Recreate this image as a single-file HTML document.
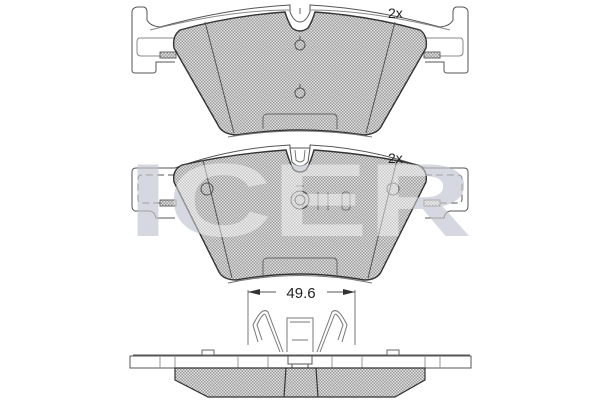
<!DOCTYPE html>
<html><head><meta charset="utf-8"><style>html,body{margin:0;padding:0;background:#fff}svg{display:block}</style></head>
<body>
<svg width="600" height="400" viewBox="0 0 600 400" xmlns="http://www.w3.org/2000/svg">
<defs>
<pattern id="h" width="3" height="3" patternUnits="userSpaceOnUse">
<rect width="3" height="3" fill="#e2e2e2"/>
<rect width="1.5" height="1.5" fill="#9a9a9a"/>
<rect x="1.5" y="1.5" width="1.5" height="1.5" fill="#9a9a9a"/>
</pattern>
</defs>

<!-- watermark -->
<text x="128" y="236" font-family="Liberation Sans, sans-serif" font-weight="bold" font-size="104" fill="#b4b9c9" textLength="344" lengthAdjust="spacingAndGlyphs">ICER</text>

<g fill="none" stroke="#555" stroke-width="1">
<path d="M132,12 Q132,8 137,7 L144,7 Q147,8 147,12 L147,20 Q150,26 160,27 Q230,8 290,5 L290,12 Q294,22 300,22 Q306,22 310,12 L310,5 Q370,8 440,27 Q450,26 453,20 L453,12 Q453,8 456,7 L463,7 Q468,8 468,12 L468,70 Q468,73 465,73 L447,73 Q444,73 444,70 L444,62 L425,62"/>
<path d="M132,12 L132,70 Q132,73 135,73 L153,73 Q156,73 156,70 L156,62 L175,62"/>
<path d="M150,30 Q230,10 290,10 M310,10 Q370,10 450,30" stroke="#888"/>
<path d="M175,38 L140,38 Q137,38 137,42 L137,52 Q137,56 141,56 L175,56" stroke="#888"/>
<path d="M425,38 L460,38 Q463,38 463,42 L463,52 Q463,56 459,56 L425,56" stroke="#888"/>
<rect x="160" y="52" width="16" height="6" fill="url(#h)" stroke="#666"/>
<rect x="424" y="52" width="16" height="6" fill="url(#h)" stroke="#666"/>

<path d="M180,30 Q230,16 285,12 Q288,22 292,28 Q300,34 308,28 Q312,22 315,12 Q370,16 420,30 Q428,36 426,48 L382,125 Q378,134 364,135 Q330,130 300,130 Q270,130 236,135 Q222,134 218,125 L174,48 Q172,36 180,30 Z" fill="url(#h)" stroke="#333" stroke-width="1.4"/>
<path d="M205,22 L234,133 M395,22 L366,133" stroke="#555"/>
<path d="M263,129 L263,118 Q263,114 268,114 L332,114 Q337,114 337,118 L337,129" stroke="#666"/>
<path d="M300,14 L300,8" stroke="#666"/>
<circle cx="300" cy="45" r="5" stroke="#555"/><path d="M300,36 L300,40" stroke="#555"/>
<circle cx="300" cy="93" r="5" stroke="#555"/><path d="M300,84 L300,88" stroke="#555"/>
<path d="M228,137 Q300,125 372,137" stroke="#777"/>

<path d="M132,172 L132,206 Q132,210 135,211 L150,211 Q155,212 156,218 L175,218" />
<path d="M468,172 L468,206 Q468,210 465,211 L450,211 Q445,212 444,218 L425,218"/>
<path d="M132,172 Q132,168 136,168 L175,168 Q230,148 290,145 L290,150 M310,150 L310,145 Q370,148 425,168 L464,168 Q468,168 468,172"/>
<path d="M175,175 L142,175 Q138,175 138,179 L138,199 Q138,203 142,203 L160,203 M425,175 L458,175 Q462,175 462,179 L462,199 Q462,203 458,203 L440,203" stroke-dasharray="7,4"/>
<rect x="160" y="200" width="16" height="6" fill="url(#h)" stroke="#666"/>
<rect x="424" y="200" width="16" height="6" fill="url(#h)" stroke="#666"/>
<path d="M182,165 Q230,154 286,150 Q290,164 294,170 Q300,174 306,170 Q310,164 314,150 Q370,154 418,165 Q428,170 426,182 L382,270 Q378,280 364,280 Q330,274 300,274 Q270,274 236,280 Q222,280 218,270 L174,182 Q172,170 182,165 Z" fill="url(#h)" stroke="#333" stroke-width="1.4"/>
<path d="M290,148 L292,162 Q300,170 308,162 L310,148 Z" fill="#fff" stroke="#555"/>
<path d="M295,150 L296,160 Q300,164 304,160 L305,150" stroke="#777"/>
<path d="M203,160 L232,278 M397,160 L368,278" stroke="#555"/>
<circle cx="207" cy="189" r="6" stroke="#555"/>
<circle cx="393" cy="189" r="6" stroke="#555"/>
<circle cx="300" cy="200" r="9" stroke="#444"/><circle cx="300" cy="200" r="5" stroke="#444"/>
<path d="M296,186 L304,186 M318,192 L318,210 M328,192 L328,210" stroke="#777"/>
<rect x="342" y="192" width="8" height="18" rx="3" stroke="#777"/>
<path d="M263,275 L263,262 Q263,258 268,258 L332,258 Q337,258 337,262 L337,275" stroke="#666"/>
<path d="M228,283 Q300,268 372,283" stroke="#777"/>

<path d="M248,290 L248,345 M355,290 L355,345" stroke="#777"/>
<path d="M248,292 L276,292 M327,292 L355,292" stroke="#555"/>
<path d="M248,292 L260,289 L260,295 Z M355,292 L343,289 L343,295 Z" fill="#333" stroke="none"/>

<path d="M258,342 L253,325 Q262,306 268,312 L283,352 M262,340 L257,325 Q264,310 266,316 L280,352" stroke="#777"/>
<path d="M342,342 L347,325 Q338,306 332,312 L317,352 M338,340 L343,325 Q336,310 334,316 L320,352" stroke="#777"/>
<path d="M287,352 L287,318 L313,318 L313,352 M290,322 L310,322 M292,340 L308,340" stroke="#777"/>

<path d="M133,355 L470,355" stroke="#555"/>
<rect x="130" y="356" width="341" height="12" stroke="#555"/>
<path d="M160,356 L160,368 M175,356 L175,368 M425,356 L425,368 M440,356 L440,368 M238,356 L238,368 M362,356 L362,368 M268,356 L268,368 M332,356 L332,368" stroke="#999"/>
<rect x="202" y="350" width="12" height="5" stroke="#666"/>
<rect x="387" y="350" width="12" height="5" stroke="#666"/>
<rect x="288" y="356" width="24" height="8" stroke="#555" fill="#fff"/>
<rect x="292" y="364" width="16" height="5" stroke="#555" fill="#fff"/>
<path d="M175,368 L425,368 L425,380 L395,397 L208,397 L175,380 Z" fill="url(#h)" stroke="#333" stroke-width="1.2"/>
<path d="M286,368 L284,397 M316,368 L318,397" stroke="#333" stroke-width="1.2"/>
</g>

<!-- watermark overlay (lightens pads) -->
<text x="128" y="236" font-family="Liberation Sans, sans-serif" font-weight="bold" font-size="104" fill="#ffffff" fill-opacity="0.45" textLength="344" lengthAdjust="spacingAndGlyphs">ICER</text>

<text x="388" y="18" font-family="Liberation Sans, sans-serif" font-size="14" fill="#222">2x</text>
<text x="388" y="163" font-family="Liberation Sans, sans-serif" font-size="14" fill="#222">2x</text>
<text x="301" y="298" text-anchor="middle" font-family="Liberation Sans, sans-serif" font-size="15" fill="#222">49.6</text>
</svg>
</body></html>
